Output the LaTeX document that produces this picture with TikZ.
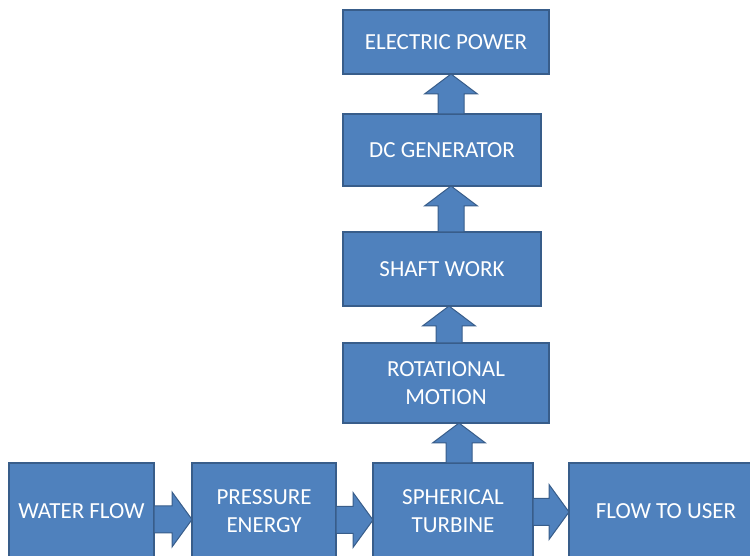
\documentclass[tikz,border=0pt]{standalone}
\usepackage{fontspec}
\setmainfont{Carlito}
\usepackage{tikz}
\usetikzlibrary{positioning,calc}
\definecolor{bfill}{HTML}{4F81BD}
\definecolor{bdraw}{HTML}{385D8A}
\tikzset{
 box/.style={rectangle, draw=bdraw, fill=bfill, line width=1.3pt, align=center,
 text=white, inner sep=2pt, outer sep=0pt, font=\fontsize{23}{28}\selectfont},
 harrow/.style={draw=bdraw, fill=bfill, line width=1pt,
 to path={($(\tikztostart)+(0pt,13.5pt)$) -- ($(\tikztotarget)+(-20pt,13.5pt)$)
 -- ($(\tikztotarget)+(-20pt,27.5pt)$) -- (\tikztotarget)
 -- ($(\tikztotarget)+(-20pt,-27.5pt)$) -- ($(\tikztotarget)+(-20pt,-13.5pt)$)
 -- ($(\tikztostart)+(0pt,-13.5pt)$) -- cycle}},
 varrow/.style={draw=bdraw, fill=bfill, line width=1pt,
 to path={($(\tikztostart)+(-13pt,0pt)$) -- ($(\tikztotarget)+(-13pt,-20pt)$)
 -- ($(\tikztotarget)+(-26.5pt,-20pt)$) -- (\tikztotarget)
 -- ($(\tikztotarget)+(26.5pt,-20pt)$) -- ($(\tikztotarget)+(13pt,-20pt)$)
 -- ($(\tikztostart)+(13pt,0pt)$) -- cycle}},
}
\begin{document}
\begin{tikzpicture}[x=1pt, y=1pt]
 \useasboundingbox (0,0) rectangle (750,556);
 % bottom row
 \node[box, minimum width=145pt, minimum height=96pt] (wf) at (81.5,45) {WATER FLOW};
 \node[box, minimum width=144pt, minimum height=96pt, right=38pt of wf] (pe) {PRESSURE\\ENERGY};
 \node[box, minimum width=160pt, minimum height=96pt, right=37pt of pe] (st) {SPHERICAL\\TURBINE};
 \node[box, minimum width=194pt, minimum height=96pt, right=36pt of st] (fu) {FLOW TO USER};
 % column
 \node[box, minimum width=206pt, minimum height=80pt, above=40pt of st, xshift=-7pt] (rm) {ROTATIONAL\\MOTION};
 \node[box, minimum width=198pt, minimum height=74pt, above=37pt of rm, xshift=-4pt] (sw) {SHAFT WORK};
 \node[box, minimum width=198pt, minimum height=72pt, above=46pt of sw] (dc) {DC GENERATOR};
 \node[box, minimum width=206pt, minimum height=64pt, above=40pt of dc, xshift=4pt] (ep) {ELECTRIC POWER};

 \draw[harrow] ([yshift=-8.5pt]wf.east) to ([yshift=-8.5pt]pe.west);
 \draw[harrow] ([yshift=-9pt]pe.east) to ([yshift=-9pt]st.west);
 \draw[harrow] ([yshift=-1pt]st.east) to ([yshift=-1pt]fu.west);
 \draw[varrow] ([xshift=6pt]st.north) to ([xshift=13pt]rm.south);
 \draw[varrow] ([xshift=3pt]rm.north) to ([xshift=7pt]sw.south);
 \draw[varrow] ([xshift=9pt]sw.north) to ([xshift=9pt]dc.south);
 \draw[varrow] ([xshift=9pt]dc.north) to ([xshift=5pt]ep.south);
\end{tikzpicture}
\end{document}
